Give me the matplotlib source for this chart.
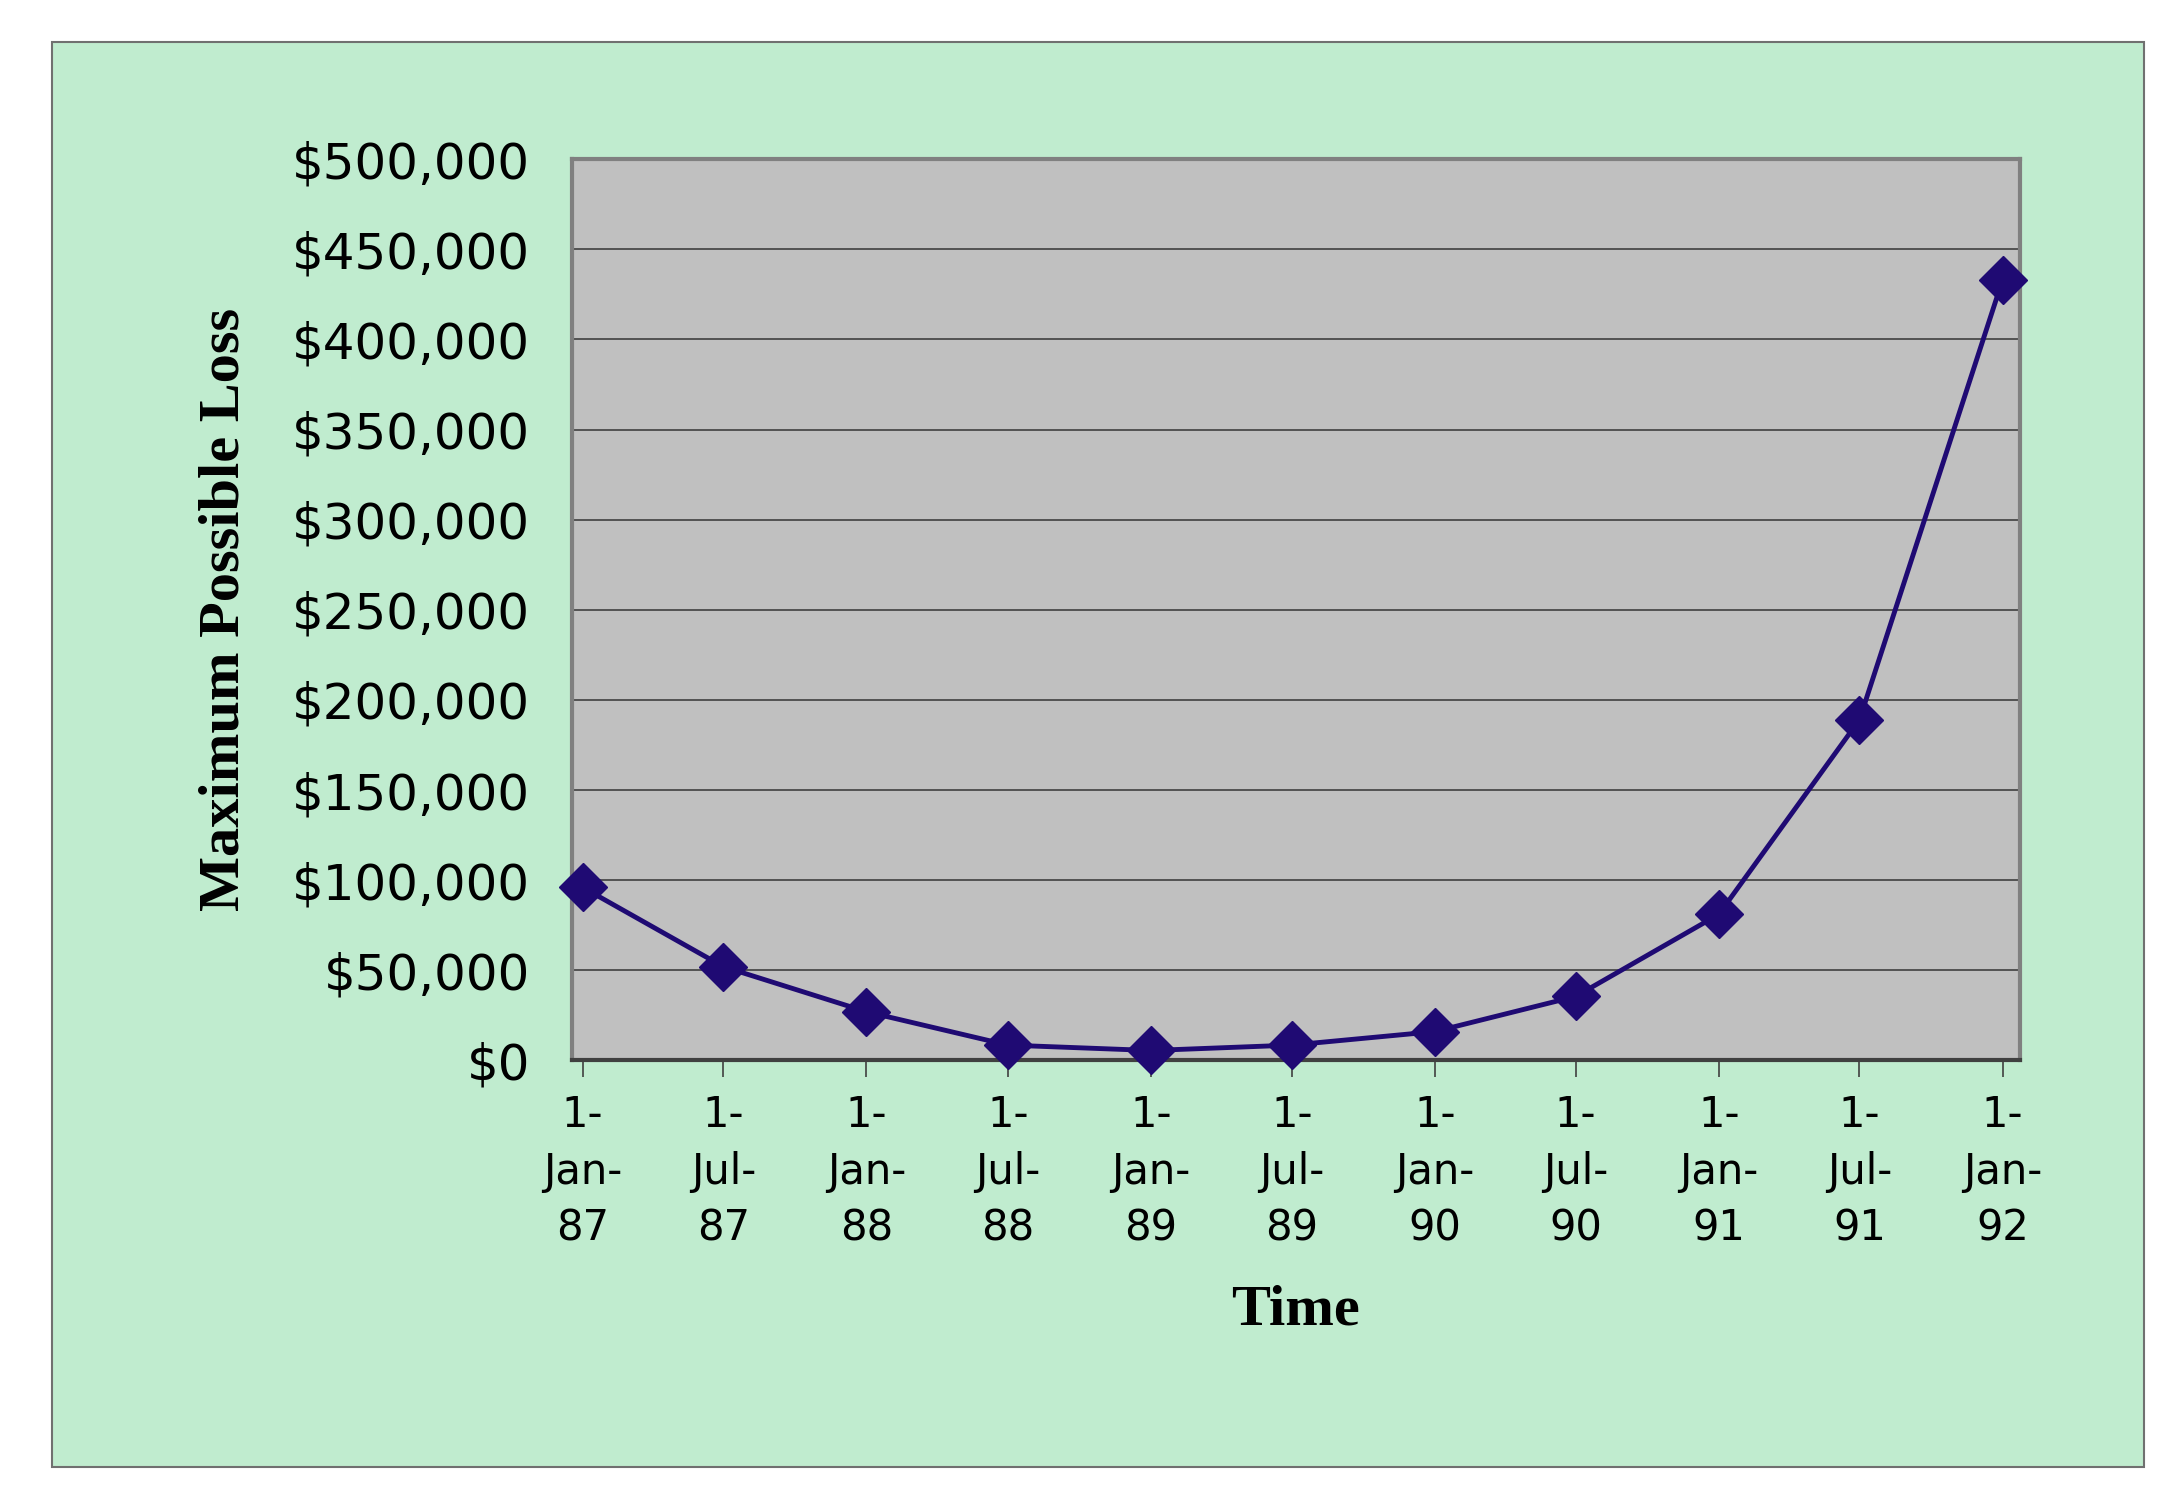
import matplotlib
matplotlib.use("Agg")
import matplotlib.pyplot as plt
from matplotlib.patches import Rectangle
import numpy as np
from datetime import date

dates = [date(1987, 1, 1), date(1987, 7, 1), date(1988, 1, 1), date(1988, 7, 1),
         date(1989, 1, 1), date(1989, 7, 1), date(1990, 1, 1), date(1990, 7, 1),
         date(1991, 1, 1), date(1991, 7, 1), date(1992, 1, 1)]
tick_labels = ["1-\nJan-\n87", "1-\nJul-\n87", "1-\nJan-\n88", "1-\nJul-\n88",
               "1-\nJan-\n89", "1-\nJul-\n89", "1-\nJan-\n90", "1-\nJul-\n90",
               "1-\nJan-\n91", "1-\nJul-\n91", "1-\nJan-\n92"]
loss = [96000, 52000, 27000, 8500, 5500, 8500, 16000, 35500, 81000, 189000, 433000]

x = np.array([(d - dates[0]).days for d in dates], dtype=float)

fig = plt.figure(figsize=(21.74, 15.02), dpi=100)
fig.patch.set_facecolor("white")
fig.patches.append(Rectangle((0.024, 0.023), 0.962, 0.949, transform=fig.transFigure,
                             facecolor="#C0ECCF", edgecolor="#707070", linewidth=1.5,
                             zorder=-10))

ax = fig.add_axes([0.263, 0.294, 0.666, 0.600])
ax.set_facecolor("#C0C0C0")
ax.plot(x, loss, color="#1F0A73", linewidth=3.5, marker="D", markersize=24,
        markeredgecolor="#1F0A73", markerfacecolor="#1F0A73", zorder=3, clip_on=False)

ax.set_ylim(0, 500000)
ax.set_yticks(np.arange(0, 500001, 50000))
ax.set_yticklabels([f"${v:,.0f}" for v in np.arange(0, 500001, 50000)])
ax.grid(axis="y", color="#404040", linewidth=1.2)
ax.set_axisbelow(True)
ax.set_xlim(x[0] - 14, x[-1] + 22)
ax.set_xticks(x)
ax.set_xticklabels(tick_labels, linespacing=1.45)
ax.tick_params(axis="y", labelsize=36, length=0, pad=30)
ax.tick_params(axis="x", labelsize=30, length=12, width=1.2, pad=12, color="#404040")

for s in ax.spines.values():
    s.set_color("#808080")
    s.set_linewidth(3)
ax.spines["bottom"].set_color("#404040")

ax.set_ylabel("Maximum Possible Loss", family="Liberation Serif", fontweight="bold",
              fontsize=42, labelpad=30)
ax.set_xlabel("Time", family="Liberation Serif", fontweight="bold", fontsize=42, labelpad=25)

fig.savefig("out.png", dpi=100)
